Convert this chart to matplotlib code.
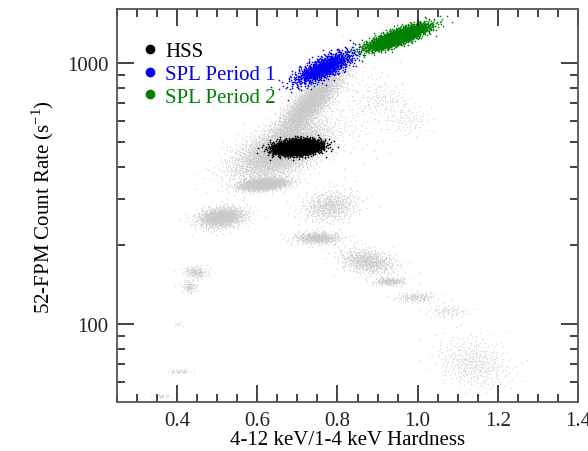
import numpy as np
import matplotlib
matplotlib.use("Agg")
import matplotlib.pyplot as plt
from matplotlib.lines import Line2D
from matplotlib.ticker import LogLocator, MultipleLocator, NullFormatter, FixedLocator

plt.rcParams['font.family'] = ['Liberation Serif', 'DejaVu Serif']

# Cluster descriptors: centre hardness, centre rate (s^-1), spread in hardness,
# spread in log10(rate), hardness/log-rate correlation, number of points
gray_x = [0.66, 0.73, 0.615, 0.51, 0.445, 0.43, 0.402, 0.405, 0.36, 0.78, 0.75,
          0.875, 0.93, 0.995, 1.075, 1.14, 0.915, 0.975, 0.86]
gray_rate = [460, 700, 344, 257, 158, 139, 100, 66, 53, 283, 214,
             174, 146, 127, 112, 71, 728, 610, 700]
gray_sx = [0.06, 0.045, 0.03, 0.03, 0.015, 0.01, 0.005, 0.015, 0.012, 0.035, 0.03,
           0.035, 0.02, 0.025, 0.025, 0.045, 0.03, 0.03, 0.05]
gray_sdex = [0.055, 0.075, 0.012, 0.02, 0.012, 0.012, 0.005, 0.005, 0.004, 0.03, 0.012,
             0.025, 0.008, 0.01, 0.012, 0.05, 0.03, 0.03, 0.1]
gray_rho = [0.55, 0.85, 0.3, 0.2, 0.0, 0.0, 0.0, 0.0, 0.0, 0.2, 0.0,
            -0.3, 0.0, 0.0, 0.0, -0.2, 0.0, 0.0, 0.0]
gray_n = [4000, 3000, 1500, 1200, 150, 80, 10, 40, 25, 600, 500,
          700, 200, 150, 80, 450, 100, 100, 150]

state_names = ["HSS", "SPL Period 1", "SPL Period 2"]
state_colors = ["black", "#0000ee", "#008000"]
state_x = [0.70, 0.765, 0.95]
state_rate = [476, 960, 1258]
state_sx = [0.028, 0.037, 0.037]
state_sdex = [0.014, 0.032, 0.024]
state_rho = [0.2, 0.75, 0.8]
state_n = [3000, 1100, 2500]


def halton(n, base, start):
    seq = np.zeros(n)
    for i in range(n):
        f, r, k = 1.0, 0.0, start + i + 1
        while k > 0:
            f /= base
            r += f * (k % base)
            k //= base
        seq[i] = r
    return seq


def cloud(cx, crate, sx, sdex, rho, n, start):
    # deterministic gaussian-like cloud from a Halton sequence (Box-Muller)
    u1 = halton(n, 2, start)
    u2 = halton(n, 3, start)
    r = np.sqrt(-2 * np.log(u1))
    z1 = r * np.cos(2 * np.pi * u2)
    z2 = r * np.sin(2 * np.pi * u2)
    x = cx + sx * z1
    logy = np.log10(crate) + sdex * (rho * z1 + np.sqrt(1 - rho ** 2) * z2)
    return x, 10 ** logy


fig = plt.figure(figsize=(5.88, 4.52), dpi=100)
ax = fig.add_axes([0.199, 0.108, 0.784, 0.870])

for i in range(len(gray_x)):
    x, y = cloud(gray_x[i], gray_rate[i], gray_sx[i], gray_sdex[i], gray_rho[i],
                 gray_n[i], 37 * i)
    ax.scatter(x, y, s=1.0, c='#c8c8c8', linewidths=0, alpha=0.65, rasterized=True)

for i in range(len(state_names)):
    x, y = cloud(state_x[i], state_rate[i], state_sx[i], state_sdex[i], state_rho[i],
                 state_n[i], 101 * i + 5)
    ax.scatter(x, y, s=1.4, c=state_colors[i], linewidths=0, rasterized=True)

ax.set_yscale('log')
ax.set_xlim(0.25, 1.4)
ax.set_ylim(50.2, 1610)

ax.xaxis.set_minor_locator(MultipleLocator(0.05))
ax.set_xticks([0.4, 0.6, 0.8, 1.0, 1.2, 1.4])
ax.set_xticklabels(['0.4', '0.6', '0.8', '1.0', '1.2', '1.4'])
ax.yaxis.set_major_locator(FixedLocator([100, 1000]))
ax.yaxis.set_minor_locator(LogLocator(base=10, subs=np.arange(2, 10)))
ax.yaxis.set_minor_formatter(NullFormatter())
ax.set_yticklabels(['100', '1000'])

ax.tick_params(which='both', direction='in', top=True, right=True,
               labelsize=15, colors='#222222', pad=6)
ax.tick_params(which='major', length=12, width=1.2)
ax.tick_params(which='minor', length=6, width=1.2)
for sp in ax.spines.values():
    sp.set_color('#555555')
    sp.set_linewidth(1.3)

ax.set_xlabel('4-12 keV/1-4 keV Hardness', fontsize=15, labelpad=0)
ax.set_ylabel('52-FPM Count Rate (s$^{\\mathregular{-1}}$)', fontsize=15, labelpad=8)

handles = [Line2D([], [], marker='o', linestyle='none', color=c, markersize=6)
           for c in state_colors]
leg = ax.legend(handles, state_names, loc='upper left', frameon=False, fontsize=15,
                handletextpad=0.1, labelspacing=0.15, borderaxespad=0.6,
                handlelength=1.2, bbox_to_anchor=(0.0, 0.97))
for txt, c in zip(leg.get_texts(), state_colors):
    txt.set_color(c)

fig.savefig('out.png', dpi=100)
